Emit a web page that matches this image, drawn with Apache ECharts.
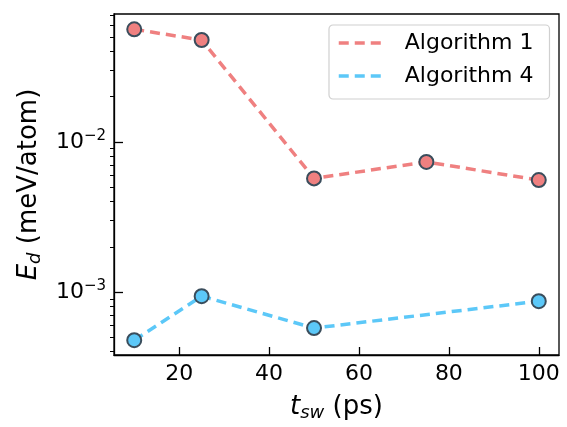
<!DOCTYPE html>
<html>
<head>
<meta charset="utf-8">
<script src="https://cdn.jsdelivr.net/npm/echarts@6/dist/echarts.min.js"></script>
<style>
  html, body { margin: 0; padding: 0; background: #fff; }
  #main { width: 567px; height: 427px; }
</style>
</head>
<body>
<div id="main"></div>
<script>
// switching time t_sw (ps)
const tsw1 = [10, 25, 50, 75, 100];
const tsw4 = [10, 25, 50, 100];
// energy difference E_d (meV/atom)
const algo1 = [0.0562, 0.0477, 0.00571, 0.00735, 0.00556];
const algo4 = [0.000477, 0.000937, 0.000574, 0.000868];

const xTicks = [20, 40, 60, 80, 100];
const yTicks = [0.001, 0.01];
const yMinor = [4e-4, 5e-4, 6e-4, 7e-4, 8e-4, 9e-4,
  2e-3, 3e-3, 4e-3, 5e-3, 6e-3, 7e-3, 8e-3, 9e-3,
  2e-2, 3e-2, 4e-2, 5e-2, 6e-2, 7e-2];

const FONT = 'DejaVu Sans';
const RED = '#ef8080';
const BLUE = '#5cc8f8';
const EDGE = '#3a4d5c';

const chart = echarts.init(document.getElementById('main'));

function pairs(xs, ys) {
  return xs.map((x, i) => [x, ys[i]]);
}

const nameStyle = {
  fontFamily: FONT, fontSize: 26, color: '#000',
  rich: {
    i: { fontFamily: FONT, fontSize: 26, fontStyle: 'italic' },
    sub: { fontFamily: FONT, fontSize: 18, fontStyle: 'italic', padding: [11, 0, 0, 0] }
  }
};

chart.setOption({
  animation: false,
  textStyle: { fontFamily: FONT },
  grid: {
    left: 114, right: 8, top: 14, bottom: 67,
    show: true, borderColor: '#000', borderWidth: 1.3
  },
  legend: {
    orient: 'vertical',
    left: 329, top: 25,
    padding: [6, 16, 11, 8],
    itemGap: 9,
    itemWidth: 48, itemHeight: 14,
    borderColor: '#d0d0d0', borderWidth: 1.2, borderRadius: 4,
    itemStyle: { opacity: 0 },
    lineStyle: { width: 3.5, type: [10, 6] },
    textStyle: { fontFamily: FONT, fontSize: 22, color: '#000', lineHeight: 24, padding: [0, 0, 0, 13] },
    data: ['Algorithm 1', 'Algorithm 4']
  },
  xAxis: {
    type: 'value',
    min: 5.5, max: 104.5,
    name: '{i|t}{sub|sw} (ps)',
    nameLocation: 'middle',
    nameGap: 38,
    nameTextStyle: nameStyle,
    axisLine: { lineStyle: { color: '#000', width: 1.3 } },
    axisTick: { inside: true, length: 8, customValues: xTicks, lineStyle: { color: '#000', width: 1.3 } },
    axisLabel: { customValues: xTicks, fontFamily: FONT, fontSize: 22, color: '#000', margin: 8 },
    splitLine: { show: false }
  },
  yAxis: [
    {
      type: 'log',
      min: 3.8e-4, max: 0.0711,
      name: '{i|E}{sub|d} (meV/atom)',
      nameLocation: 'middle',
      nameGap: 70,
      nameTextStyle: nameStyle,
      axisLine: { show: true, lineStyle: { color: '#000', width: 1.3 } },
      axisTick: { show: true, inside: true, length: 9, customValues: yTicks, lineStyle: { color: '#000', width: 1.3 } },
      axisLabel: {
        customValues: yTicks,
        margin: 8,
        color: '#000',
        formatter: v => '10{sup|\u2212' + Math.round(-Math.log10(v)) + '}',
        fontFamily: FONT, fontSize: 22,
        rich: {
          sup: { fontFamily: FONT, fontSize: 15, color: '#000', padding: [0, 0, 11, 0] }
        }
      },
      splitLine: { show: false }
    },
    {
      // minor ticks of the log axis
      type: 'log',
      min: 3.8e-4, max: 0.0711,
      position: 'left',
      axisLine: { show: false },
      axisTick: { show: true, inside: false, length: 4, customValues: yMinor, lineStyle: { color: '#000', width: 1 } },
      axisLabel: { show: false },
      splitLine: { show: false }
    }
  ],
  series: [
    {
      name: 'Algorithm 1',
      type: 'line',
      data: pairs(tsw1, algo1),
      symbol: 'circle', symbolSize: 14,
      lineStyle: { color: RED, width: 3.5, type: [10, 6] },
      itemStyle: { color: RED, borderColor: EDGE, borderWidth: 2 },
      z: 3
    },
    {
      name: 'Algorithm 4',
      type: 'line',
      data: pairs(tsw4, algo4),
      symbol: 'circle', symbolSize: 14,
      lineStyle: { color: BLUE, width: 3.5, type: [10, 6] },
      itemStyle: { color: BLUE, borderColor: EDGE, borderWidth: 2 },
      z: 3
    }
  ]
});
</script>
</body>
</html>
